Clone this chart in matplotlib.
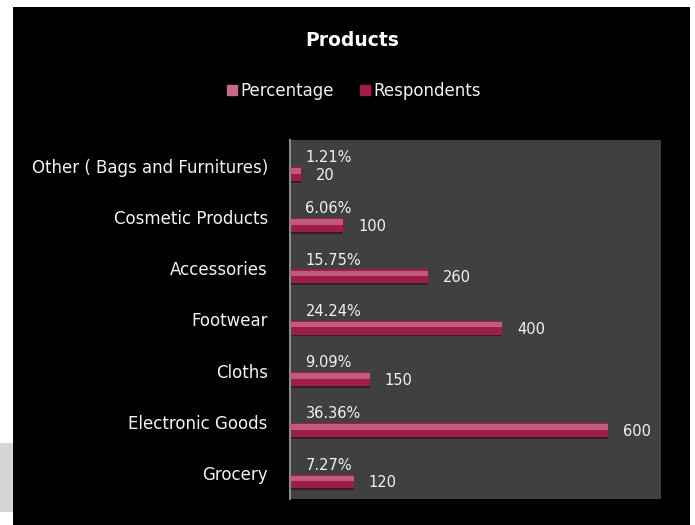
import numpy as np
import matplotlib.pyplot as plt
from matplotlib.patches import Rectangle

# Survey data: product categories (bottom to top as drawn)
categories = ["Grocery", "Electronic Goods", "Cloths", "Footwear",
              "Accessories", "Cosmetic Products", "Other ( Bags and Furnitures)"]
respondents = [120, 600, 150, 400, 260, 100, 20]
# share of respondents, stored as fractions
percentage = [0.0727, 0.3636, 0.0909, 0.2424, 0.1575, 0.0606, 0.0121]

plt.rcParams['font.family'] = ['DejaVu Sans']

fig = plt.figure(figsize=(6.95, 5.25), dpi=100)
fig.patch.set_facecolor('white')

# page strip on the left behind the slide
fig.patches.append(Rectangle((0, 13 / 525), 13 / 695, 69 / 525,
                             transform=fig.transFigure, facecolor='#d6d6d6',
                             edgecolor='none', zorder=-6))

# black slide background
fig.patches.append(Rectangle((13 / 695, 0), 677 / 695, 518 / 525,
                             transform=fig.transFigure, facecolor='black',
                             edgecolor='none', zorder=-5))

ax = fig.add_axes([290 / 695, 26 / 525, 371 / 695, 359 / 525])
ax.set_zorder(2)
ax.set_facecolor('#404040')

y = np.arange(len(categories))
h = 0.27
off = 0.16

resp_col = '#a11c4b'
pct_col = '#c8688a'

# respondents bars with a shadow and a light top bevel
ax.barh(y - off - 0.035, respondents, height=h, color='#2e2228', zorder=1)
ax.barh(y - off, respondents, height=h, color=resp_col, zorder=2)
ax.barh(y - off + h * 0.22, respondents, height=h * 0.4,
        color='#c25a7c', zorder=3)

# percentage bars (fractions, so hardly visible on this scale)
ax.barh(y + off, percentage, height=h, color=pct_col, zorder=2)

for yi, r, p in zip(y, respondents, percentage):
    ax.annotate(f"{r}", (r, yi - off), xytext=(11, -1),
                textcoords='offset points', ha='left', va='center',
                color='#f2f2f2', fontsize=10.5)
    ax.annotate(f"{p:.2%}", (p, yi + off), xytext=(11, 0),
                textcoords='offset points', ha='left', va='center',
                color='#f2f2f2', fontsize=10.5)

ax.set_xlim(0, 700)
ax.set_ylim(-0.5, len(categories) - 0.5)
ax.set_xticks([])
ax.set_yticks(y)
ax.set_yticklabels(categories, color='#f2f2f2', fontsize=12)
ax.tick_params(axis='y', length=0, pad=16)
for side in ['top', 'right', 'bottom']:
    ax.spines[side].set_visible(False)
ax.spines['left'].set_color('#8a8a8a')
ax.spines['left'].set_linewidth(1.5)

fig.text(352 / 695, (525 - 40) / 525, "Products", ha='center', va='center',
         color='white', fontsize=13.5, fontweight='bold')

handles = [Rectangle((0, 0), 1, 1, color=pct_col),
           Rectangle((0, 0), 1, 1, color=resp_col)]
fig.legend(handles, ["Percentage", "Respondents"], loc='center',
           bbox_to_anchor=(354 / 695, (525 - 91) / 525), ncol=2,
           frameon=False, fontsize=12, labelcolor='#f2f2f2',
           handlelength=0.6, handleheight=0.6, handletextpad=0.2,
           columnspacing=1.6)

fig.savefig('out.png', dpi=100, facecolor=fig.get_facecolor())
